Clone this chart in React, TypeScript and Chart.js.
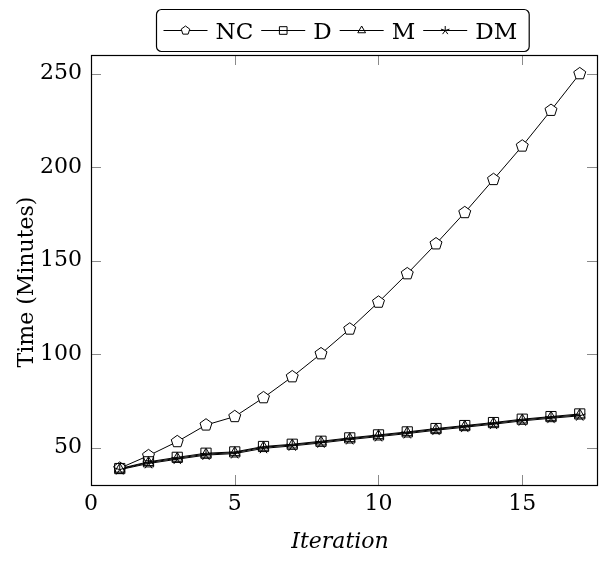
import React, { useEffect, useRef } from "react";
import { Chart, registerables } from "chart.js";

Chart.register(...registerables);

const iterations = [1, 2, 3, 4, 5, 6, 7, 8, 9, 10, 11, 12, 13, 14, 15, 16, 17];
const ncTimes = [39, 45.7, 53.2, 62.1, 66.6, 76.7, 87.9, 100.2, 113.4, 127.8, 143, 159, 175.7, 193.4, 211.3, 230.4, 250];
const dTimes = [38.8, 42.4, 44.8, 47, 47.7, 50.6, 51.8, 53.4, 55.2, 56.8, 58.4, 60.2, 61.8, 63.4, 65.2, 66.6, 68];
const mTimes = [38.5, 42, 44.3, 46.5, 47.3, 50.2, 51.4, 53, 54.8, 56.4, 58, 59.8, 61.4, 63, 64.8, 66.2, 67.5];
const dmTimes = [38.2, 41.5, 43.8, 46, 46.8, 49.6, 50.9, 52.5, 54.3, 55.9, 57.5, 59.3, 60.9, 62.5, 64.3, 65.7, 67];
const seriesNames = ["NC", "D", "M", "DM"];
const xTicks = [0, 5, 10, 15];
const yTicks = [50, 100, 150, 200, 250];

const FONT = "'DejaVu Serif', 'Liberation Serif', serif";

function drawMarkerShape(ctx: CanvasRenderingContext2D, kind: string, cx: number, cy: number, r: number) {
  ctx.beginPath();
  if (kind === "pentagon") {
    for (let i = 0; i < 5; i++) {
      const a = -Math.PI / 2 + (i * 2 * Math.PI) / 5;
      const px = cx + r * Math.cos(a);
      const py = cy + r * Math.sin(a);
      if (i === 0) ctx.moveTo(px, py);
      else ctx.lineTo(px, py);
    }
    ctx.closePath();
    ctx.fillStyle = "#fff";
    ctx.fill();
    ctx.stroke();
  } else if (kind === "square") {
    const h = r * 0.85;
    ctx.rect(cx - h, cy - h, 2 * h, 2 * h);
    ctx.stroke();
  } else if (kind === "triangle") {
    for (let i = 0; i < 3; i++) {
      const a = -Math.PI / 2 + (i * 2 * Math.PI) / 3;
      const px = cx + r * Math.cos(a);
      const py = cy + r * Math.sin(a);
      if (i === 0) ctx.moveTo(px, py);
      else ctx.lineTo(px, py);
    }
    ctx.closePath();
    ctx.stroke();
  } else if (kind === "star") {
    for (let i = 0; i < 5; i++) {
      const a = -Math.PI / 2 + (i * 2 * Math.PI) / 5;
      ctx.moveTo(cx, cy);
      ctx.lineTo(cx + r * Math.cos(a), cy + r * Math.sin(a));
    }
    ctx.stroke();
  }
}

const markerKinds = ["pentagon", "square", "triangle", "star"];

export default function App() {
  const ref = useRef<HTMLCanvasElement | null>(null);

  useEffect(() => {
    if (!ref.current) return;
    const seriesValues = [ncTimes, dTimes, mTimes, dmTimes];

    const framePlugin = {
      id: "frame",
      afterDatasetsDraw(chart: any) {
        const { ctx } = chart;
        ctx.save();
        ctx.strokeStyle = "#000";
        ctx.lineWidth = 1;
        chart.data.datasets.forEach((_ds: any, i: number) => {
          const meta = chart.getDatasetMeta(i);
          meta.data.forEach((pt: any) => {
            drawMarkerShape(ctx, markerKinds[i], pt.x, pt.y, i === 0 ? 6.3 : 6);
          });
        });
        ctx.restore();
      },
      afterDraw(chart: any) {
        const { ctx, chartArea: a, scales } = chart;
        ctx.save();
        // ticks
        ctx.strokeStyle = "#8a8a8a";
        ctx.lineWidth = 1;
        const tl = 10;
        ctx.beginPath();
        for (const v of xTicks) {
          if (v === 0) continue;
          const x = Math.round(scales.x.getPixelForValue(v)) + 0.5;
          ctx.moveTo(x, a.bottom);
          ctx.lineTo(x, a.bottom - tl);
          ctx.moveTo(x, a.top);
          ctx.lineTo(x, a.top + tl);
        }
        for (const v of yTicks) {
          const y = Math.round(scales.y.getPixelForValue(v)) + 0.5;
          ctx.moveTo(a.left, y);
          ctx.lineTo(a.left + tl, y);
          ctx.moveTo(a.right, y);
          ctx.lineTo(a.right - tl, y);
        }
        ctx.stroke();
        // frame
        ctx.strokeStyle = "#000";
        ctx.lineWidth = 1.2;
        ctx.strokeRect(Math.round(a.left) + 0.5, Math.round(a.top) + 0.5, Math.round(a.right - a.left), Math.round(a.bottom - a.top));

        // axis titles
        ctx.fillStyle = "#000";
        ctx.font = `italic 22px ${FONT}`;
        ctx.textAlign = "center";
        ctx.textBaseline = "middle";
        ctx.fillText("Iteration", (a.left + a.right) / 2 - 4, 542);
        ctx.save();
        ctx.translate(27, 282);
        ctx.rotate(-Math.PI / 2);
        ctx.font = `22px ${FONT}`;
        ctx.fillText("Time (Minutes)", 0, 0);
        ctx.restore();

        // legend
        ctx.font = `23px ${FONT}`;
        const lineW = 44;
        const gap = 8;
        const widths = seriesNames.map((n) => ctx.measureText(n).width);
        let total = 0;
        widths.forEach((w, i) => {
          total += lineW + gap + w + (i < widths.length - 1 ? gap : 0);
        });
        const padL = 7;
        const padR = 12;
        const boxW = total + padL + padR;
        const cx = 342;
        const boxL = Math.round(cx - boxW / 2) + 0.5;
        const boxT = 9.5;
        const boxB = 51.5;
        const midY = 30.5;
        ctx.strokeStyle = "#000";
        ctx.lineWidth = 1.2;
        ctx.beginPath();
        const rr = 5;
        ctx.moveTo(boxL + rr, boxT);
        ctx.arcTo(boxL + boxW, boxT, boxL + boxW, boxB, rr);
        ctx.arcTo(boxL + boxW, boxB, boxL, boxB, rr);
        ctx.arcTo(boxL, boxB, boxL, boxT, rr);
        ctx.arcTo(boxL, boxT, boxL + boxW, boxT, rr);
        ctx.closePath();
        ctx.stroke();
        let x = boxL + padL;
        ctx.textAlign = "left";
        ctx.textBaseline = "alphabetic";
        seriesNames.forEach((name, i) => {
          ctx.strokeStyle = "#000";
          ctx.lineWidth = 1;
          ctx.beginPath();
          ctx.moveTo(x, midY);
          ctx.lineTo(x + lineW, midY);
          ctx.stroke();
          drawMarkerShape(ctx, markerKinds[i], x + lineW / 2, midY, 4.5);
          x += lineW + gap;
          ctx.fillStyle = "#000";
          ctx.fillText(name, x, 38.5);
          x += widths[i] + gap;
        });
        ctx.restore();
      },
    };

    const chart = new Chart(ref.current, {
      type: "line",
      data: {
        datasets: seriesNames.map((name, i) => ({
          label: name,
          data: iterations.map((it, j) => ({ x: it, y: seriesValues[i][j] })),
          borderColor: "#000",
          backgroundColor: "#fff",
          borderWidth: 1,
          pointRadius: 0,
          tension: 0,
        })),
      },
      options: {
        animation: false,
        responsive: false,
        events: [],
        layout: { padding: { top: 55, right: 3, left: 0, bottom: 0 } },
        plugins: { legend: { display: false }, tooltip: { enabled: false } },
        scales: {
          x: {
            type: "linear",
            min: 0,
            max: 17.6,
            afterBuildTicks: (s: any) => {
              s.ticks = xTicks.map((v) => ({ value: v }));
            },
            afterFit: (s: any) => {
              s.height = 76;
            },
            grid: { display: false, drawTicks: false },
            border: { display: false },
            ticks: {
              font: { family: FONT, size: 22 },
              color: "#000",
              padding: 6,
              maxRotation: 0,
              autoSkip: false,
            },
          },
          y: {
            type: "linear",
            min: 30,
            max: 260,
            afterBuildTicks: (s: any) => {
              s.ticks = yTicks.map((v) => ({ value: v }));
            },
            afterFit: (s: any) => {
              s.width = 91;
            },
            grid: { display: false, drawTicks: false },
            border: { display: false },
            ticks: {
              font: { family: FONT, size: 22 },
              color: "#000",
              padding: 9,
              autoSkip: false,
            },
          },
        },
      },
      plugins: [framePlugin],
    });
    return () => chart.destroy();
  }, []);

  return (
    <div style={{ position: "fixed", left: 0, top: 0, width: 600, height: 561, background: "#fff" }}>
      <canvas ref={ref} width={600} height={561} style={{ width: 600, height: 561, display: "block" }} />
    </div>
  );
}
